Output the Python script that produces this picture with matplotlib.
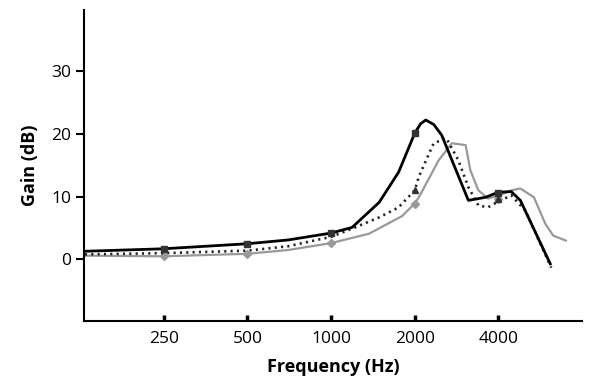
import matplotlib
matplotlib.use("Agg")
import matplotlib.pyplot as plt

plt.rcParams['font.family'] = ['Open Sans', 'DejaVu Sans']

# Black solid series
f_black = [130, 250, 500, 700, 1000, 1190, 1490, 1750, 2000, 2100, 2190, 2340, 2500, 3120, 3600, 4000, 4450, 4800, 6150]
g_black = [1.3, 1.7, 2.5, 3.1, 4.2, 5.1, 9.1, 13.9, 20.1, 21.6, 22.2, 21.5, 19.8, 9.4, 9.9, 10.7, 10.8, 9.4, -0.7]
mf_black = [250, 500, 1000, 2000, 4000]
mg_black = [1.7, 2.5, 4.2, 20.1, 10.6]

# Black dotted series
f_dot = [130, 250, 500, 700, 1000, 1190, 1490, 1750, 2000, 2070, 2340, 2600, 2870, 3120, 3390, 3670, 3950, 4450, 5000, 6200]
g_dot = [0.8, 1.0, 1.4, 2.1, 3.6, 4.9, 6.7, 8.3, 11.0, 13.2, 18.5, 19.3, 15.8, 11.5, 8.6, 8.3, 9.1, 10.2, 7.8, -1.3]
mf_dot = [2000, 4000]
mg_dot = [11.0, 9.6]

# Gray series
f_gray = [130, 250, 500, 700, 1000, 1370, 1800, 2000, 2070, 2440, 2720, 3050, 3170, 3390, 3670, 4030, 4450, 4800, 5370, 5900, 6300, 7000]
g_gray = [0.6, 0.5, 0.9, 1.5, 2.6, 4.1, 6.9, 8.9, 9.9, 15.8, 18.5, 18.2, 14.2, 11.0, 9.7, 10.2, 11.0, 11.3, 9.9, 5.7, 3.8, 3.0]
mf_gray = [250, 500, 1000, 2000, 4000]
mg_gray = [0.5, 0.9, 2.6, 8.9, 9.6]

xticks = [250, 500, 1000, 2000, 4000]
xticklabels = ['250', '500', '1000', '2000', '4000']
yticks = [0, 10, 20, 30]

fig = plt.figure(figsize=(6, 3.88), dpi=100)
ax = fig.add_axes([0.14, 0.1727, 0.83, 0.8013])

ax.plot(f_gray, g_gray, color='#999999', lw=1.6, zorder=2)
ax.plot(mf_gray, mg_gray, linestyle='none', marker='D', ms=4, color='#999999', zorder=2)
ax.plot(f_dot, g_dot, color='#222222', lw=1.9, linestyle=(0, (0.8, 1.6)), zorder=3)
ax.plot(mf_dot, mg_dot, linestyle='none', marker='^', ms=4.5, color='#333333', zorder=3)
ax.plot(f_black, g_black, color='black', lw=2.0, zorder=4)
ax.plot(mf_black, mg_black, linestyle='none', marker='s', ms=4.5, color='#333333', zorder=4)

ax.set_xscale('log')
ax.set_xlim(129, 8000)
ax.set_ylim(-9.8, 39.7)
ax.set_xticks(xticks)
ax.set_xticklabels(xticklabels)
ax.minorticks_off()
ax.set_yticks(yticks)

for s in ['top', 'right']:
    ax.spines[s].set_visible(False)
for s in ['left', 'bottom']:
    ax.spines[s].set_linewidth(1.5)
    ax.spines[s].set_color('black')

ax.tick_params(axis='x', direction='in', length=4, width=2.5, labelsize=12.5, pad=7)
ax.tick_params(axis='y', direction='out', length=6, width=1.5, labelsize=12.5, pad=3)

ax.set_xlabel('Frequency (Hz)', fontsize=13, fontweight='bold', labelpad=8)
ax.set_ylabel('Gain (dB)', fontsize=13, fontweight='bold', labelpad=9)

fig.savefig('out.png', dpi=100)
